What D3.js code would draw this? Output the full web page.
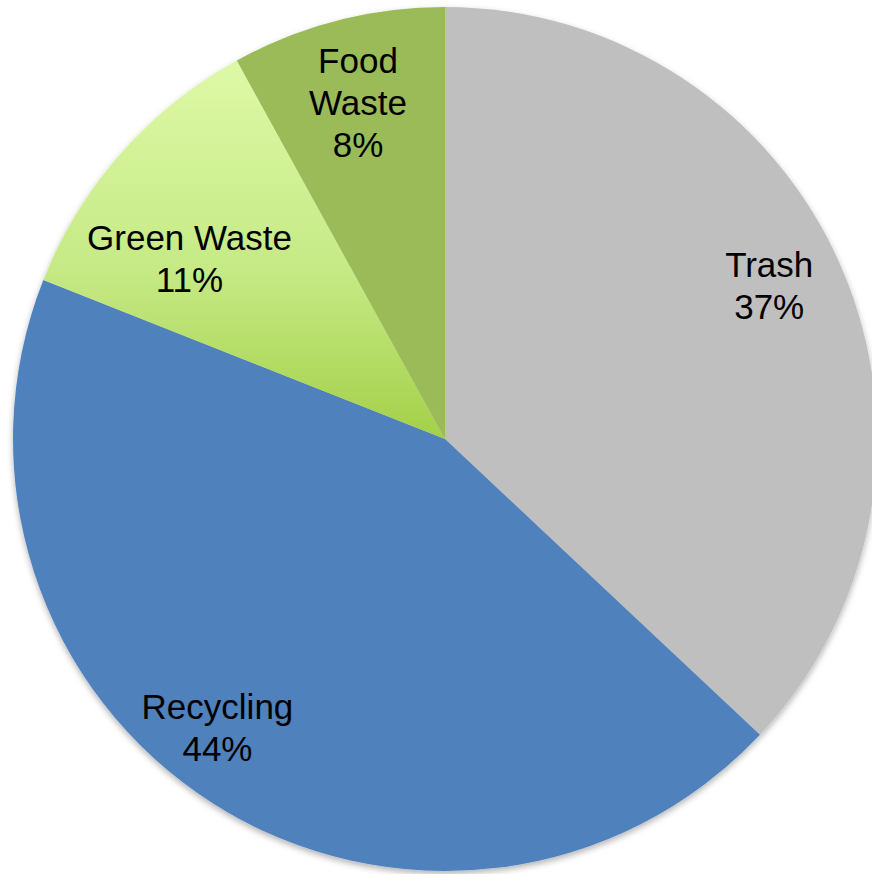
<!DOCTYPE html>
<html>
<head>
<meta charset="utf-8">
<script src="https://cdn.jsdelivr.net/npm/d3@7"></script>
<style>
  html, body { margin: 0; padding: 0; background: #ffffff; }
  svg { display: block; }
</style>
</head>
<body>
<svg id="chart" width="872" height="874"></svg>
<script>
// ---- data ----
const categories = ["Trash", "Recycling", "Green Waste", "Food Waste"];
const values = [37, 44, 11, 8];
const labelLines = [["Trash"], ["Recycling"], ["Green Waste"], ["Food", "Waste"]];

// ---- layout / style ----
const W = 872, H = 874;
const cx = 445, cy = 439, radius = 432;
const colors = ["#BFBFBF", "#4F81BD", "url(#greenGrad)", "#9BBB59"];
const labelRadius = 350;
const labelNudge = { "Trash": [3, -15], "Recycling": [-40, -7], "Green Waste": [7, 51], "Food Waste": [0, 2] };
const fontSize = 35, lineH = 42, capH = 25;

const svg = d3.select("#chart");
const defs = svg.append("defs");

const grad = defs.append("linearGradient")
  .attr("id", "greenGrad")
  .attr("x1", 0).attr("y1", 0).attr("x2", 0).attr("y2", 1);
grad.append("stop").attr("offset", "0%").attr("stop-color", "#DEF9A6");
grad.append("stop").attr("offset", "55%").attr("stop-color", "#C6EA86");
grad.append("stop").attr("offset", "100%").attr("stop-color", "#A3D048");

const filt = defs.append("filter").attr("id", "shadow")
  .attr("x", "-10%").attr("y", "-10%").attr("width", "120%").attr("height", "120%");
filt.append("feDropShadow").attr("dx", 0).attr("dy", 3).attr("stdDeviation", 3)
  .attr("flood-color", "#000").attr("flood-opacity", 0.3);

const data = categories.map((c, i) => ({ name: c, value: values[i], lines: labelLines[i], color: colors[i] }));

const pie = d3.pie().sort(null).value(d => d.value)
  .startAngle(0).endAngle(2 * Math.PI);
const arcs = pie(data);

const arc = d3.arc().innerRadius(0).outerRadius(radius);
const labelArc = d3.arc().innerRadius(labelRadius).outerRadius(labelRadius);

const g = svg.append("g").attr("transform", `translate(${cx},${cy})`);

g.append("g").attr("filter", "url(#shadow)")
  .selectAll("path")
  .data(arcs)
  .join("path")
  .attr("d", arc)
  .attr("fill", d => d.data.color);

const total = d3.sum(values);
const lbl = g.selectAll("text.lbl")
  .data(arcs)
  .join("text")
  .attr("class", "lbl")
  .attr("text-anchor", "middle")
  .attr("font-family", "'Liberation Sans', Arial, sans-serif")
  .attr("font-size", fontSize)
  .attr("fill", "#000");

lbl.each(function(d) {
  const [x0, y0] = labelArc.centroid(d);
  const nud = labelNudge[d.data.name] || [0, 0];
  const x = x0 + nud[0], y = y0 + nud[1];
  const lines = d.data.lines.concat([Math.round(d.data.value / total * 100) + "%"]);
  const n = lines.length;
  const firstBase = y - (n - 1) * lineH / 2 + capH / 2;
  const t = d3.select(this);
  lines.forEach((s, i) => {
    t.append("tspan").attr("x", x).attr("y", firstBase + i * lineH).text(s);
  });
});
</script>
</body>
</html>
